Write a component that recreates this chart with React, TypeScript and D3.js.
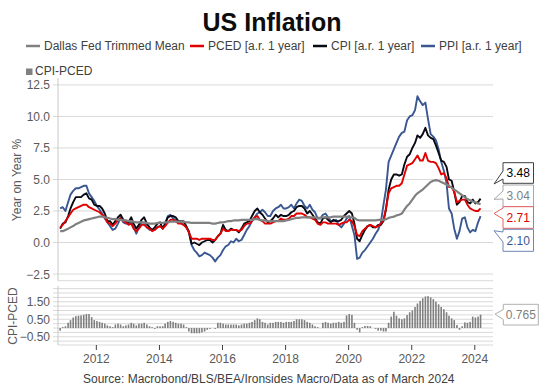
import React from "react";
import * as d3 from "d3";

// monthly, Nov 2010 .. Mar 2024
const startMonth = new Date(2010, 10, 1);

const trimmedMean = [
  0.9, 0.9,
  1.0, 1.1, 1.2, 1.3, 1.45, 1.55, 1.65, 1.75, 1.8, 1.85, 1.9, 1.95,
  2.0, 2.05, 2.05, 2.0, 1.95, 1.9, 1.85, 1.85, 1.8, 1.8, 1.75, 1.75,
  1.7, 1.7, 1.65, 1.6, 1.6, 1.6, 1.55, 1.55, 1.5, 1.5, 1.5, 1.55,
  1.55, 1.55, 1.6, 1.6, 1.65, 1.65, 1.65, 1.65, 1.65, 1.65, 1.6, 1.6,
  1.55, 1.55, 1.55, 1.55, 1.55, 1.55, 1.55, 1.55, 1.5, 1.5, 1.55, 1.6,
  1.6, 1.65, 1.7, 1.7, 1.75, 1.75, 1.75, 1.8, 1.8, 1.8, 1.8, 1.8,
  1.85, 1.85, 1.8, 1.75, 1.75, 1.7, 1.7, 1.7, 1.7, 1.7, 1.7, 1.7,
  1.75, 1.8, 1.85, 1.9, 1.95, 1.95, 2.0, 2.0, 2.0, 2.0, 2.0, 2.0,
  1.95, 1.95, 2.0, 2.0, 2.0, 2.0, 2.05, 2.05, 2.05, 2.05, 2.05, 2.05,
  2.0, 2.0, 1.95, 1.8, 1.75, 1.75, 1.75, 1.75, 1.75, 1.75, 1.75, 1.8,
  1.8, 1.8, 1.85, 1.95, 2.0, 2.05, 2.15, 2.2, 2.3, 2.6, 2.9, 3.1,
  3.4, 3.7, 3.9, 4.05, 4.2, 4.4, 4.6, 4.8, 4.9, 4.95, 4.9, 4.8,
  4.7, 4.6, 4.5, 4.35, 4.2, 4.05, 3.9, 3.75, 3.6, 3.45, 3.35, 3.25,
  3.2, 3.1, 3.04,
];

const pced = [
  1.2, 1.4,
  1.7, 2.0, 2.3, 2.6, 2.7, 2.8, 2.9, 3.0, 3.0, 2.8, 2.7, 2.6,
  2.5, 2.4, 2.2, 2.0, 1.6, 1.5, 1.3, 1.5, 1.8, 1.9, 1.7, 1.6,
  1.4, 1.5, 1.1, 0.9, 1.1, 1.4, 1.4, 1.2, 1.1, 0.9, 1.0, 1.2,
  1.3, 1.1, 1.3, 1.6, 1.8, 1.8, 1.7, 1.5, 1.5, 1.4, 1.2, 0.8,
  0.3, 0.3, 0.3, 0.2, 0.3, 0.3, 0.3, 0.3, 0.2, 0.2, 0.5, 0.7,
  1.1, 0.9, 0.9, 1.0, 1.0, 1.0, 0.9, 1.0, 1.3, 1.5, 1.5, 1.7,
  2.0, 2.1, 1.8, 1.7, 1.5, 1.5, 1.5, 1.6, 1.7, 1.7, 1.9, 1.8,
  1.8, 1.9, 2.1, 2.1, 2.3, 2.3, 2.3, 2.2, 2.0, 2.0, 1.9, 1.8,
  1.5, 1.4, 1.6, 1.6, 1.5, 1.5, 1.5, 1.5, 1.4, 1.5, 1.6, 1.6,
  1.8, 1.7, 1.3, 0.6, 0.5, 0.9, 1.1, 1.3, 1.4, 1.3, 1.2, 1.3,
  1.5, 1.8, 2.7, 3.9, 4.3, 4.4, 4.5, 4.5, 4.7, 5.4, 6.1, 6.2,
  6.3, 6.6, 6.9, 6.5, 6.5, 7.1, 6.5, 6.4, 6.4, 6.3, 5.9, 5.4,
  5.5, 5.1, 4.4, 4.4, 4.0, 3.2, 3.3, 3.4, 3.4, 3.0, 2.7, 2.6,
  2.5, 2.5, 2.71,
];

const cpi = [
  1.1, 1.5,
  1.6, 2.1, 2.7, 3.2, 3.6, 3.6, 3.6, 3.8, 3.9, 3.5, 3.4, 3.0,
  2.9, 2.9, 2.7, 2.3, 1.7, 1.7, 1.4, 1.7, 2.0, 2.2, 1.8, 1.7,
  1.6, 2.0, 1.5, 1.1, 1.4, 1.8, 2.0, 1.5, 1.2, 1.0, 1.2, 1.5,
  1.6, 1.1, 1.5, 2.0, 2.1, 2.1, 2.0, 1.7, 1.7, 1.7, 1.3, 0.8,
  -0.1, 0.0, -0.1, -0.2, 0.0, 0.1, 0.2, 0.2, 0.0, 0.2, 0.5, 0.7,
  1.4, 1.0, 0.9, 1.1, 1.0, 1.0, 0.8, 1.1, 1.5, 1.6, 1.7, 2.1,
  2.5, 2.7, 2.4, 2.2, 1.9, 1.6, 1.7, 1.9, 2.2, 2.0, 2.2, 2.1,
  2.1, 2.2, 2.4, 2.5, 2.8, 2.9, 2.9, 2.7, 2.3, 2.5, 2.2, 1.9,
  1.6, 1.5, 1.9, 2.0, 1.8, 1.6, 1.8, 1.7, 1.7, 1.8, 2.1, 2.3,
  2.5, 2.3, 1.5, 0.3, 0.1, 0.6, 1.0, 1.3, 1.4, 1.2, 1.2, 1.4,
  1.4, 1.7, 2.6, 4.2, 5.0, 5.4, 5.4, 5.3, 5.4, 6.2, 6.8, 7.0,
  7.5, 7.9, 8.5, 8.3, 8.6, 9.1, 8.5, 8.3, 8.2, 7.7, 7.1, 6.5,
  6.4, 6.0, 5.0, 4.9, 4.0, 3.0, 3.2, 3.7, 3.7, 3.2, 3.1, 3.4,
  3.1, 3.2, 3.48,
];

const ppi = [
  2.7, 2.8,
  2.5, 3.2, 3.8, 4.1, 4.3, 4.3, 4.4, 4.5, 4.5, 3.9, 3.6, 3.3,
  2.9, 2.6, 2.3, 1.9, 1.6, 1.3, 1.0, 1.1, 1.5, 2.0, 1.6, 1.5,
  1.5, 1.6, 1.2, 0.7, 1.2, 1.6, 1.6, 1.2, 1.0, 1.0, 1.0, 1.2,
  1.3, 1.1, 1.5, 2.1, 2.2, 1.9, 1.8, 1.7, 1.6, 1.4, 1.2, 0.9,
  -0.2, -0.6, -0.8, -1.1, -1.0, -0.8, -0.9, -1.0, -1.2, -1.5, -1.2, -1.0,
  -0.6, -0.3, -0.2, 0.1, 0.0, 0.3, 0.1, 0.2, 0.6, 1.0, 1.3, 1.7,
  2.0, 2.3, 2.4, 2.6, 2.4, 2.1, 2.1, 2.5, 2.7, 2.8, 3.0, 2.7,
  2.7, 2.8, 3.0, 2.7, 3.1, 3.4, 3.3, 2.9, 2.7, 3.0, 2.6, 2.4,
  1.9, 1.9, 2.2, 2.3, 2.0, 1.7, 1.7, 1.8, 1.4, 1.2, 1.5, 1.9,
  2.1, 1.3, 0.6, -1.3, -1.2, -0.8, -0.6, -0.3, 0.0, 0.3, 0.7, 1.0,
  1.6, 3.0, 4.2, 6.4, 6.9, 7.4, 7.9, 8.4, 8.7, 8.8, 9.7, 10.0,
  10.1, 10.5, 11.6, 11.2, 10.9, 11.1, 9.8, 8.6, 8.4, 8.1, 7.4, 6.4,
  5.7, 4.7, 2.7, 2.3, 1.1, 0.3, 0.9, 1.9, 2.0, 1.2, 0.8, 1.0,
  0.9, 1.6, 2.1,
];

const cpiMinusPced = [
  -0.15, 0.05,
  0.1, 0.3, 0.45, 0.6, 0.68, 0.7, 0.72, 0.76, 0.8, 0.8, 0.62, 0.45,
  0.4, 0.35, 0.3, 0.25, 0.15, 0.1, 0.05, 0.2, 0.25, 0.2, 0.1, 0.15,
  0.2, 0.3, 0.25, 0.15, 0.25, 0.25, 0.3, 0.2, 0.1, 0.05, -0.05, 0.1,
  0.1, 0.1, 0.25, 0.35, 0.4, 0.35, 0.3, 0.25, 0.25, 0.2, 0.05, -0.2,
  -0.3, -0.3, -0.3, -0.3, -0.25, -0.2, -0.1, -0.05, 0.0, -0.05, 0.3, 0.3,
  0.25, 0.2, 0.2, 0.2, 0.2, 0.2, 0.15, 0.2, 0.25, 0.25, 0.3, 0.35,
  0.45, 0.55, 0.5, 0.35, 0.3, 0.2, 0.3, 0.3, 0.35, 0.35, 0.35, 0.3,
  0.35, 0.35, 0.35, 0.4, 0.5, 0.5, 0.5, 0.45, 0.35, 0.3, 0.2, 0.1,
  0.05, 0.0, 0.3, 0.35, 0.3, 0.25, 0.3, 0.3, 0.35, 0.3, 0.35, 0.72,
  0.8, 0.75, 0.3, -0.1, -0.25, 0.05, 0.12, 0.12, 0.1, 0.0, -0.05, -0.15,
  -0.15, -0.2, -0.2, 0.3, 0.65, 0.93, 0.7, 0.55, 0.5, 0.55, 0.74, 0.9,
  1.0, 1.2, 1.4, 1.55, 1.7, 1.8, 1.82, 1.75, 1.65, 1.5, 1.35, 1.2,
  1.07, 0.9, 0.7, 0.55, 0.45, 0.17, -0.1, 0.1, 0.32, 0.3, 0.35, 0.65,
  0.6, 0.65, 0.765,
];

const yearTicks = [2012, 2014, 2016, 2018, 2020, 2022, 2024];
const topTicks = [-2.5, 0.0, 2.5, 5.0, 7.5, 10.0, 12.5];
const bottomTicks = [-0.5, 0.5, 1.5];
const bottomGrid = [-0.75, -0.5, -0.25, 0, 0.25, 0.5, 0.75, 1, 1.25, 1.5, 1.75, 2, 2.25];

const FONT = "'Liberation Sans', Arial, sans-serif";
const GRID = "#d9d9d9";
const TICK_TEXT = "#595959";

const series = [
  { name: "Dallas Fed Trimmed Mean", values: trimmedMean, color: "#808080" },
  { name: "PCED [a.r. 1 year]", values: pced, color: "#e00000" },
  { name: "CPI [a.r. 1 year]", values: cpi, color: "#0a0a14" },
  { name: "PPI [a.r. 1 year]", values: ppi, color: "#3b5791" },
];

const App = () => {
  const W = 543;
  const H = 389;
  const left = 58;
  const right = 493;

  const dates = cpi.map((_, i) => d3.timeDay.offset(d3.timeMonth.offset(startMonth, i), 7));

  const x = d3
    .scaleTime()
    .domain([new Date(2010, 9, 14), new Date(2024, 6, 30)])
    .range([left, right]);

  const yTop = d3.scaleLinear().domain([-3.03, 13.05]).range([280.7, 78]);
  const yBot = d3.scaleLinear().domain([-0.97, 2.4]).range([345, 286]);

  const line = (vals: number[]) =>
    d3
      .line<number>()
      .x((d, i) => x(dates[i]))
      .y((d) => yTop(d))(vals);

  // draw order: PPI first, trimmed mean on top
  const drawOrder = [3, 2, 1, 0];

  // callouts on the right, stacked from highest to lowest
  const fmt2 = d3.format(".2f");
  const callouts = [
    { v: cpi[cpi.length - 1], stroke: "#404040", text: "#000000", top: 162.7, h: 20.6, tip: 184, a: [171, 179] },
    { v: trimmedMean[trimmedMean.length - 1], stroke: "#a6a6a6", text: "#7f7f7f", top: 185, h: 21.5, tip: 199.3, a: [191, 199] },
    { v: pced[pced.length - 1], stroke: "#e86060", text: "#e00000", top: 206.7, h: 21.6, tip: 213.5, a: [208, 219] },
    { v: ppi[ppi.length - 1], stroke: "#6f86b5", text: "#3b5791", top: 229.3, h: 22, tip: 230.7, a: [232, 242] },
  ];
  const cx = 503;
  const cw = 30.5;
  const tipX = 494;

  const calloutPath = (bx: number, bw: number, top: number, h: number, tipY: number, a: number[], tx: number) =>
    `M${bx},${top}H${bx + bw}V${top + h}H${bx}V${a[1]}L${tx},${tipY}L${bx},${a[0]}Z`;

  const barW = 1.6;
  const lastBar = cpiMinusPced[cpiMinusPced.length - 1];

  const legendItems = [
    { x: 26, s: series[0] },
    { x: 190, s: series[1] },
    { x: 313, s: series[2] },
    { x: 421, s: series[3] },
  ];

  return (
    <svg
      width={W}
      height={H}
      style={{ position: "absolute", left: 0, top: 0, background: "#fff" }}
      fontFamily={FONT}
    >
      <rect width={W} height={H} fill="#fff" />
      <text x={272} y={30.5} textAnchor="middle" fontSize={25} fontWeight="bold" fill="#0d0d0d">
        US Inflation
      </text>

      {/* legend */}
      {legendItems.map((it) => (
        <g key={it.s.name}>
          <line x1={it.x} x2={it.x + 14} y1={46} y2={46} stroke={it.s.color} strokeWidth={2.5} />
          <text x={it.x + 18} y={50} fontSize={12} fill="#404040">
            {it.s.name}
          </text>
        </g>
      ))}
      <rect x={26} y={68.5} width={6.5} height={6.5} fill="#808080" />
      <text x={35} y={75} fontSize={12} fill="#404040">
        CPI-PCED
      </text>

      {/* top panel */}
      {topTicks.map((t) => (
        <g key={"tt" + t}>
          <line x1={53} x2={right} y1={yTop(t)} y2={yTop(t)} stroke={GRID} strokeWidth={1} />
          <text x={50} y={yTop(t) + 4.5} textAnchor="end" fontSize={12} fill={TICK_TEXT}>
            {d3.format(".1f")(t)}
          </text>
        </g>
      ))}
      <line x1={left} x2={right} y1={280.7} y2={280.7} stroke={GRID} />
      <line x1={left} x2={left} y1={78} y2={280.7} stroke="#c8c8c8" />
      <text
        transform={`translate(21,180) rotate(-90)`}
        textAnchor="middle"
        fontSize={12}
        fill={TICK_TEXT}
      >
        Year on Year %
      </text>

      <defs>
        <clipPath id="topClip">
          <rect x={left} y={78} width={right - left} height={202.7} />
        </clipPath>
      </defs>
      <g clipPath="url(#topClip)">
        {drawOrder.map((k) => (
          <path
            key={series[k].name}
            d={line(series[k].values) || ""}
            fill="none"
            stroke={series[k].color}
            strokeWidth={k === 0 ? 2.2 : 1.9}
            strokeLinejoin="round"
          />
        ))}
      </g>

      {callouts.map((c, i) => (
        <g key={"co" + i}>
          <path d={calloutPath(cx, cw, c.top, c.h, c.tip, c.a, tipX)} fill="#fff" stroke={c.stroke} strokeWidth={1} />
          <text x={cx + cw / 2} y={c.top + c.h / 2 + 4.3} textAnchor="middle" fontSize={12} fill={c.text}>
            {fmt2(c.v)}
          </text>
        </g>
      ))}

      {/* bottom panel */}
      {bottomGrid.map((t) => (
        <line key={"bg" + t} x1={53} x2={right} y1={yBot(t)} y2={yBot(t)} stroke={GRID} strokeWidth={1} />
      ))}
      <line x1={left} x2={right} y1={345} y2={345} stroke={GRID} />
      {bottomTicks.map((t) => (
        <text key={"bt" + t} x={50} y={yBot(t) + 4.5} textAnchor="end" fontSize={12} fill={TICK_TEXT}>
          {d3.format(".2f")(t)}
        </text>
      ))}
      <line x1={left} x2={left} y1={286} y2={345} stroke="#c8c8c8" />
      <text
        transform={`translate(17,316) rotate(-90)`}
        textAnchor="middle"
        fontSize={12}
        fill={TICK_TEXT}
      >
        CPI-PCED
      </text>

      {cpiMinusPced.map((v, i) => (
        <rect
          key={"b" + i}
          x={x(dates[i]) - barW / 2}
          y={Math.min(yBot(v), yBot(0))}
          width={barW}
          height={Math.abs(yBot(v) - yBot(0))}
          fill="#7f7f7f"
        />
      ))}

      <path
        d={calloutPath(503.3, 35, 304.3, 20.7, yBot(lastBar) - 0.5, [309.5, 319.5], 495)}
        fill="#fff"
        stroke="#b0b0b0"
      />
      <text x={503.3 + 17.5} y={304.3 + 14.6} textAnchor="middle" fontSize={12} fill="#7f7f7f">
        {d3.format(".3f")(lastBar)}
      </text>

      {/* x axis */}
      {yearTicks.map((yr) => {
        const xx = x(new Date(yr, 0, 1));
        return (
          <g key={"x" + yr}>
            <line x1={xx} x2={xx} y1={345} y2={350} stroke="#404040" />
            <text x={xx} y={362.5} textAnchor="middle" fontSize={12} fill={TICK_TEXT}>
              {yr}
            </text>
          </g>
        );
      })}

      <text x={83} y={383} fontSize={12} fill="#404040">
        Source: Macrobond/BLS/BEA/Ironsides Macro/Data as of March 2024
      </text>
    </svg>
  );
};

export default App;
